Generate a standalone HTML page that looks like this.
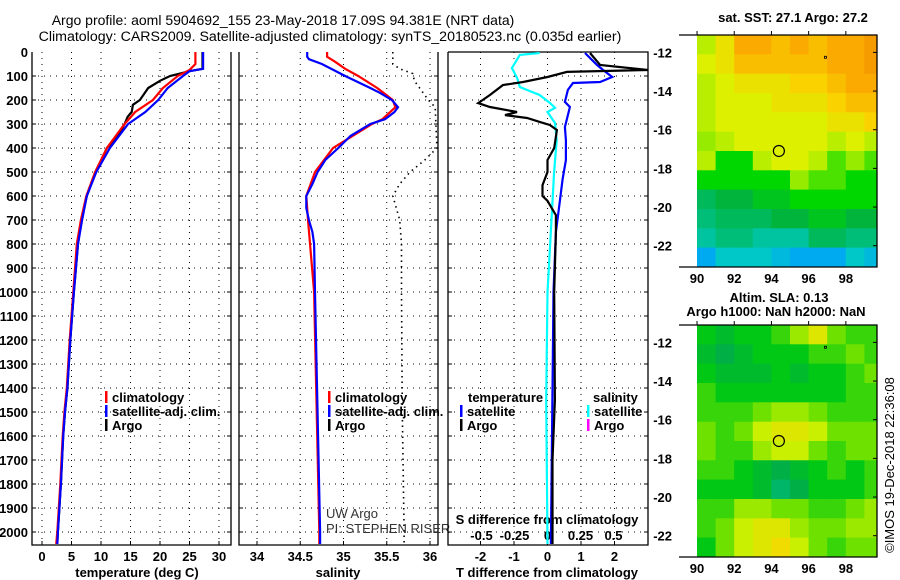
<!DOCTYPE html>
<html><head><meta charset="utf-8">
<style>
html,body{margin:0;padding:0;background:#fff;}
svg{display:block;font-family:"Liberation Sans",Arial,sans-serif;}
.tk{font-size:13px;font-weight:bold;fill:#000;}
.lg{font-size:13px;font-weight:bold;fill:#000;}
</style></head>
<body>
<svg id="fig" width="900" height="580" viewBox="0 0 900 580">
<text x="283" y="25" text-anchor="middle" font-size="14">Argo profile: aoml 5904692_155 23-May-2018 17.09S 94.381E (NRT data)</text>
<text x="330" y="41" text-anchor="middle" font-size="14.2">Climatology: CARS2009. Satellite-adjusted climatology: synTS_20180523.nc (0.035d earlier)</text>
<g id="p1"></g>
<g id="p2"></g>
<g id="p3"></g>
<g id="m1"></g>
<g id="m2"></g>
<text x="793" y="22" text-anchor="middle" class="tk">sat. SST: 27.1 Argo: 27.2</text>
<text x="779" y="302" text-anchor="middle" class="tk">Altim. SLA: 0.13</text>
<text x="776" y="316" text-anchor="middle" class="tk">Argo h1000: NaN h2000: NaN</text>
<text transform="translate(894,465) rotate(-90)" text-anchor="middle" font-size="13">©IMOS 19-Dec-2018 22:36:08</text>
</svg>
<script>
// ---------- data ----------
const depthTicks=[0,100,200,300,400,500,600,700,800,900,1000,1100,1200,1300,1400,1500,1600,1700,1800,1900,2000];
const tempTicks=[0,5,10,15,20,25,30];
const salTicks=[34,34.5,35,35.5,36];
const tdiffTicks=[-2,-1,0,1,2];
const sdiffTicks=[-0.5,-0.25,0,0.25,0.5];

const tClimDepth=[0,40,50,75,100,150,200,250,300,400,500,600,700,800,1000,1200,1400,1500,1600,1800,2000,2050];
const tClimVal=[26,26,26,25,23,20.5,18.8,15.8,14,11,9,7.5,6.6,5.9,5.3,4.7,4.2,3.8,3.5,3.1,2.6,2.4];
const tSatDepth=[0,70,80,100,150,200,250,300,400,500,600,700,800,1000,1200,1400,1500,1600,1800,2000,2050];
const tSatVal=[27.3,27.3,25,23.9,21.3,19.7,17.5,14.6,11.5,9.2,7.6,6.8,6.1,5.4,4.8,4.3,3.9,3.6,3.2,2.7,2.6];
const tArgoDepth=[0,70,80,100,120,150,200,220,250,270,300,350,400,500,600,700,800,1000,1200,1400,1500,1600,1800,2000,2050];
const tArgoVal=[27.2,27.2,25,21.7,20,18,16.6,15.4,15.2,14.5,14,12.9,11,9.1,7.6,6.7,6.1,5.4,4.8,4.3,3.9,3.6,3.2,2.7,2.6];

const sClimDepth=[0,20,40,70,100,150,200,230,280,300,400,500,600,700,1000,2000,2050];
const sClimVal=[34.81,34.81,34.9,35.02,35.17,35.39,35.57,35.6,35.45,35.33,34.88,34.67,34.57,34.59,34.66,34.72,34.72];
const sSatDepth=[0,20,30,50,100,150,170,200,230,250,280,300,350,400,450,500,550,600,650,700,750,800,1000,2000,2050];
const sSatVal=[34.58,34.58,34.6,34.75,35.02,35.31,35.42,35.56,35.63,35.59,35.48,35.31,35.08,34.94,34.79,34.7,34.64,34.57,34.57,34.6,34.64,34.66,34.67,34.73,34.73];
const sDotDepth=[0,50,70,90,120,150,200,230,400,450,500,550,600,650,700,800,1000,1500,2000,2050];
const sDotVal=[35.57,35.57,35.65,35.8,35.82,35.88,35.98,36.06,36.08,35.94,35.77,35.65,35.57,35.61,35.65,35.67,35.67,35.68,35.7,35.7];

const dTArgoDepth=[4,54,75,83,104,125,138,179,213,229,250,263,275,292,304,325,400,450,500,555,600,620,680,750,1000,1450,1700,2050];
const dTArgoVal=[1.27,1.57,3.0,0.58,0,-0.73,-1.33,-1.72,-2.07,-1.72,-0.91,-1.27,-0.61,-0.22,0.07,0.28,0.2,0,0,-0.15,-0.15,0,0.25,0.25,0.2,0.22,0.15,0.15];
const dTSatDepth=[4,54,75,104,125,129,158,208,229,313,367,450,530,620,750,1000,2050];
const dTSatVal=[1.12,1.48,1.66,1.93,1.57,0.76,0.61,0.52,0.67,0.52,0.55,0.55,0.45,0.37,0.25,0.18,0.1];
const dSSatDepth=[4,12,67,108,146,179,213,233,250,296,367,500,700,1000,1450,2050];
const dSSatVal=[-0.06,-0.21,-0.27,-0.23,-0.21,-0.06,0.02,0.057,0,0.057,0.07,0.05,0.03,0,-0.01,0];

const lonTicks=[90,92,94,96,98];
const latTicks=[-12,-14,-16,-18,-20,-22];
const sstGrid=[
[27.1,27.3,27.6,27.6,27.5,27.6,27.5,27.6,27.6,27.7],
[27.2,27.3,27.5,27.5,27.5,27.5,27.5,27.6,27.6,27.7],
[27.1,27.2,27.3,27.3,27.3,27.4,27.4,27.5,27.6,27.6],
[27.1,27.2,27.2,27.2,27.3,27.3,27.3,27.4,27.5,27.5],
[27.1,27.2,27.2,27.2,27.2,27.2,27.2,27.3,27.3,27.4],
[27.0,27.1,27.2,27.2,27.2,27.2,27.2,27.1,27.2,27.1],
[27.1,26.8,26.8,27.1,27.2,27.2,27.1,26.9,27.0,26.9],
[26.8,26.8,26.8,26.8,26.8,27.0,26.9,26.9,26.8,26.8],
[26.5,26.6,26.6,26.7,26.7,26.8,26.8,26.8,26.8,26.8],
[26.4,26.5,26.5,26.5,26.6,26.6,26.7,26.7,26.6,26.6],
[26.3,26.4,26.4,26.3,26.3,26.3,26.5,26.5,26.4,26.4],
[26.0,26.2,26.2,26.2,26.1,26.0,26.0,26.0,26.2,26.1]];
const slaGrid=[
[0.4,0.3,0.4,0.4,0.5,0.7,0.9,0.6,0.5,0.5],
[0.3,0.2,0.3,0.4,0.4,0.4,0.5,0.5,0.6,0.5],
[0.4,0.3,0.3,0.3,0.4,0.3,0.4,0.4,0.5,0.6],
[0.5,0.4,0.4,0.4,0.4,0.4,0.4,0.4,0.5,0.5],
[0.5,0.5,0.5,0.6,0.7,0.7,0.6,0.5,0.5,0.5],
[0.6,0.5,0.6,0.8,0.9,0.9,0.8,0.6,0.6,0.6],
[0.6,0.5,0.5,0.7,0.8,0.8,0.6,0.5,0.6,0.6],
[0.5,0.5,0.4,0.3,0.2,0.3,0.4,0.5,0.4,0.5],
[0.4,0.4,0.4,0.3,0.1,0.2,0.4,0.4,0.4,0.5],
[0.5,0.5,0.7,0.7,0.6,0.6,0.5,0.5,0.6,0.7],
[0.5,0.6,0.8,0.9,0.9,0.7,0.6,0.6,0.7,0.7],
[0.4,0.6,0.8,0.9,1.0,0.8,0.6,0.5,0.6,0.6]];
const argoLon=94.4, argoLat=-17.1;

// ---------- helpers ----------
const NS="http://www.w3.org/2000/svg";
function mk(parent,tag,attrs){const e=document.createElementNS(NS,tag);for(const k in attrs)e.setAttribute(k,attrs[k]);parent.appendChild(e);return e;}
const Y0=52,YS=0.24,YB=545;
const yD=d=>Y0+d*YS;
const xT=t=>42+t*5.9;
const xS=s=>257+(s-34)*86.5;
const xDT=v=>547.5+v*33.5;
const xDS=v=>547.5+v*132;

function frame(g,x0,x1,top){
  const l=mk(g,'path',{d:`M${x0} ${Y0}V${YB}H${x1}V${Y0}`+(top?`H${x0}`:''),fill:'none',stroke:'#000','stroke-width':1.3});
  
}
function grid(g,x0,x1,xs){
  depthTicks.forEach(d=>{const y=yD(d);if(y<=Y0+1)return;
    const e=mk(g,'line',{x1:x0,x2:x1,y1:y,y2:y,stroke:'#000','stroke-dasharray':'1 5','stroke-width':1});
    
    mk(g,'line',{x1:x0,x2:x0+4,y1:y,y2:y,stroke:'#000'});mk(g,'line',{x1:x1-4,x2:x1,y1:y,y2:y,stroke:'#000'});});
  xs.forEach(x=>{const e=mk(g,'line',{x1:x,x2:x,y1:Y0,y2:YB,stroke:'#000','stroke-dasharray':'1 5','stroke-width':1});
    
    mk(g,'line',{x1:x,x2:x,y1:YB,y2:YB-4,stroke:'#000'});});
}
function series(g,depths,vals,xf,color,name,w,dash){
  const pts=depths.map((d,i)=>`${xf(vals[i]).toFixed(1)},${yD(d).toFixed(1)}`).join(' ');
  const a={points:pts,fill:'none',stroke:color,'stroke-width':w||2};
  if(dash)a['stroke-dasharray']=dash;
  const e=mk(g,'polyline',a);
  
  
}
function text(g,x,y,s,cls,anchor,name){const e=mk(g,'text',{x:x,y:y,class:cls,'text-anchor':anchor||'middle'});e.textContent=s;
  return e;}
function legend(g,x,y,color,label){mk(g,'rect',{x:x,y:y-11,width:2.5,height:12,fill:color});
  text(g,x+7,y,label,'lg','start','legend-entry');}

// ---------- panel 1 ----------
const p1=document.getElementById('p1');
const clip=mk(document.getElementById('fig'),'defs',{});
[['c1',32,231],['c2',239,438],['c3',448,648]].forEach(c=>{const cp=mk(clip,'clipPath',{id:c[0]});mk(cp,'rect',{x:c[1],y:Y0,width:c[2]-c[1],height:YB-Y0});});
grid(p1,32,231,tempTicks.map(xT));frame(p1,32,231,false);
depthTicks.forEach(d=>text(p1,28,yD(d)+5,String(d),'tk','end','depth-tick-label'));
tempTicks.forEach(t=>text(p1,xT(t),561,String(t),'tk','middle','temp-tick-label'));
text(p1,137,577,'temperature (deg C)','tk','middle','x-axis-title-temperature');
const s1=mk(p1,'g',{'clip-path':'url(#c1)'});
series(s1,tArgoDepth,tArgoVal,xT,'#000','argo-temperature-line',2.2);
series(s1,tClimDepth,tClimVal,xT,'#f00','climatology-temperature-line',2.2);
series(s1,tSatDepth,tSatVal,xT,'#00f','satellite-temperature-line',2.2);
legend(p1,105,402,'#f00','climatology');legend(p1,105,416,'#00f','satellite-adj. clim.');legend(p1,105,430,'#000','Argo');

// ---------- panel 2 ----------
const p2=document.getElementById('p2');
grid(p2,239,438,salTicks.map(xS));frame(p2,239,438,false);
salTicks.forEach(t=>text(p2,xS(t),561,String(t),'tk','middle','salinity-tick-label'));
text(p2,338,577,'salinity','tk','middle','x-axis-title-salinity');
const s2=mk(p2,'g',{'clip-path':'url(#c2)'});
series(s2,sDotDepth,sDotVal,xS,'#000','argo-salinity-dotted-line',1.6,'1.5 4');
series(s2,sClimDepth,sClimVal,xS,'#f00','climatology-salinity-line',2.2);
series(s2,sSatDepth,sSatVal,xS,'#00f','satellite-salinity-line',2.2);
legend(p2,328,402,'#f00','climatology');legend(p2,328,416,'#00f','satellite-adj. clim.');legend(p2,328,430,'#000','Argo');
const uw=text(p2,326,518,'UW Argo','','start','float-operator');uw.setAttribute('font-size','13');uw.setAttribute('fill','#333');
const pi=text(p2,326,533,'PI: STEPHEN RISER','','start','float-pi');pi.setAttribute('font-size','13');pi.setAttribute('fill','#333');

// ---------- panel 3 ----------
const p3=document.getElementById('p3');
grid(p3,448,648,tdiffTicks.map(xDT));frame(p3,448,648,true);
tdiffTicks.forEach(t=>text(p3,xDT(t),561,String(t),'tk','middle','tdiff-tick-label'));
sdiffTicks.forEach(t=>text(p3,xDS(t),540,String(t),'tk','middle','sdiff-tick-label'));
text(p3,547,577,'T difference from climatology','tk','middle','x-axis-title-tdiff');
text(p3,547,524,'S difference from climatology','tk','middle','axis-title-sdiff');
const s3=mk(p3,'g',{'clip-path':'url(#c3)'});
series(s3,dSSatDepth,dSSatVal,xDS,'#0ff','salinity-satellite-diff-line',2.2);
series(s3,dTSatDepth,dTSatVal,xDT,'#00f','temperature-satellite-diff-line',2.2);
series(s3,dTArgoDepth,dTArgoVal,xDT,'#000','temperature-argo-diff-line',2.2);
text(p3,468,402,'temperature','lg','start','legend-title-temperature');
legend(p3,460,416,'#00f','satellite');legend(p3,460,430,'#000','Argo');
text(p3,593,402,'salinity','lg','start','legend-title-salinity');
legend(p3,587,416,'#0ff','satellite');legend(p3,587,430,'#f0f','Argo');

// ---------- maps ----------
const MX0=679,MX1=877,LON0=89.03,PXL=18.6,LAT_TOP=-11.1,PYL=19.33;
const mapX=lon=>MX0+(lon-LON0)*PXL;
function interpC(stops,v){if(v<=stops[0][0])return 'rgb('+stops[0][1].join(',')+')';
  for(let i=1;i<stops.length;i++){if(v<=stops[i][0]){const a=stops[i-1],b=stops[i],f=(v-a[0])/(b[0]-a[0]);
    return 'rgb('+a[1].map((c,k)=>Math.round(c+(b[1][k]-c)*f)).join(',')+')';}}
  return 'rgb('+stops[stops.length-1][1].join(',')+')';}
const sstStops=[[26.0,[0,170,240]],[26.2,[0,200,200]],[26.4,[0,190,120]],[26.6,[0,180,60]],[26.8,[0,215,0]],[27.0,[150,235,0]],[27.2,[220,240,0]],[27.4,[250,210,0]],[27.6,[250,170,0]],[27.8,[240,140,0]]];
const slaStops=[[0,[0,190,140]],[0.2,[0,175,70]],[0.4,[0,200,20]],[0.6,[110,225,0]],[0.8,[200,240,0]],[1.0,[240,220,0]]];
function drawMap(g,top,gridv,stops,name){
  const mapY=lat=>top+(LAT_TOP-lat)*PYL;
  gridv.forEach((row,r)=>row.forEach((v,c)=>{
    const lon=90+c, x=mapX(lon), w=Math.min(mapX(lon+1),MX1)-x;
    const y=mapY(LAT_TOP-r);
    const e=mk(g,'rect',{x:x.toFixed(1),y:y.toFixed(1),width:(w+0.5).toFixed(1),height:(PYL+0.5).toFixed(1),fill:interpC(stops,v)});
    
    
  }));
  const bottom=top+232;
  const fr=mk(g,'path',{d:`M${MX0} ${top}H${MX1}V${bottom}H${MX0}`,fill:'none',stroke:'#000','stroke-width':1.3});
  
  lonTicks.forEach(l=>{const x=mapX(l);mk(g,'line',{x1:x,x2:x,y1:top,y2:top-4,stroke:'#000'});
    text(g,x,bottom+16,String(l),'tk','middle','longitude-tick-label');});
  latTicks.forEach(l=>{const y=mapY(l);mk(g,'line',{x1:MX1,x2:MX1-4,y1:y,y2:y,stroke:'#000'});
    text(g,672,y+5,String(l),'tk','end','latitude-tick-label');});
  const ci=mk(g,'circle',{cx:mapX(argoLon),cy:mapY(argoLat),r:5.5,fill:'none',stroke:'#000','stroke-width':1.2});
  
  mk(g,'rect',{x:mapX(96.85),y:mapY(-12.2),width:2,height:2,fill:'none',stroke:'#000','stroke-width':0.8});
}
drawMap(document.getElementById('m1'),35,sstGrid,sstStops,'sst');
drawMap(document.getElementById('m2'),325,slaGrid,slaStops,'sla');
</script>
</body></html>
